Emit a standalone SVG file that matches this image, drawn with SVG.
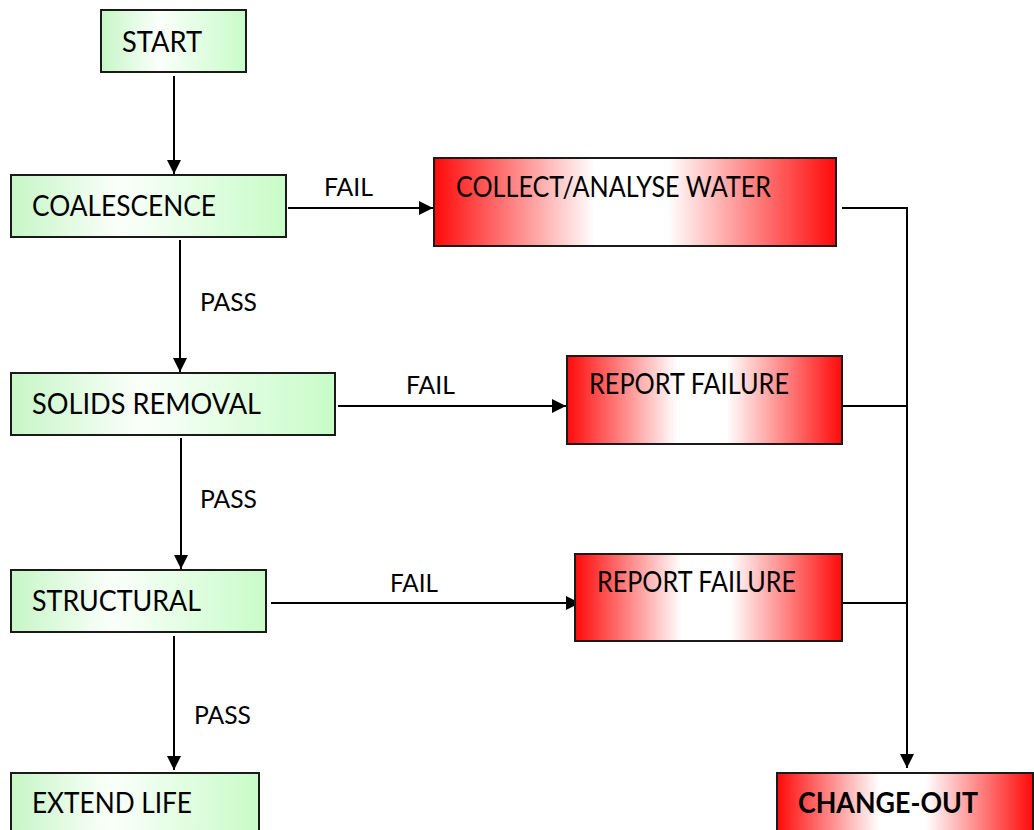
<svg xmlns="http://www.w3.org/2000/svg" width="1034" height="830" viewBox="0 0 1034 830">
<defs>
<linearGradient id="gGreen" x1="0" y1="0" x2="1" y2="0">
<stop offset="0" stop-color="#c6f6c6"/>
<stop offset="0.4" stop-color="#fbfffb"/>
<stop offset="1" stop-color="#c8fcc8"/>
</linearGradient>
<linearGradient id="gRed" x1="0" y1="0" x2="1" y2="0">
<stop offset="0" stop-color="#ff0a0a"/>
<stop offset="0.4" stop-color="#ffffff"/>
<stop offset="0.58" stop-color="#ffffff"/>
<stop offset="1" stop-color="#ff0a0a"/>
</linearGradient>
<marker id="arr" markerUnits="userSpaceOnUse" markerWidth="16" markerHeight="16" refX="14" refY="8" orient="auto">
<path d="M0,1 L14,8 L0,15 z" fill="#000"/>
</marker>
<style>
.g{fill:url(#gGreen);stroke:#1a1a1a;stroke-width:2}
.r{fill:url(#gRed);stroke:#1a1a1a;stroke-width:2}
.t{font-family:Lato,"Open Sans","Liberation Sans",sans-serif;font-size:28.5px;fill:#000}
.b{font-weight:bold}
.l{font-family:Lato,"Open Sans","Liberation Sans",sans-serif;font-size:25.7px;fill:#000}
.c{fill:none;stroke:#000;stroke-width:2}
.a{marker-end:url(#arr)}
</style>
</defs>
<rect width="1034" height="830" fill="#fff"/>
<g id="connectors">
<line class="c a" x1="174" y1="76" x2="174" y2="174"/>
<line class="c a" x1="288" y1="208" x2="433" y2="208"/>
<line class="c a" x1="180" y1="240" x2="180" y2="372"/>
<line class="c a" x1="338" y1="406" x2="566" y2="406"/>
<line class="c a" x1="181" y1="438" x2="181" y2="569"/>
<line class="c a" x1="271" y1="603" x2="580" y2="603"/>
<line class="c a" x1="174" y1="636" x2="174" y2="770"/>
<polyline class="c a" points="842,208 907,208 907,768"/>
<line class="c" x1="843" y1="406" x2="907" y2="406"/>
<line class="c" x1="842" y1="603" x2="907" y2="603"/>
<text class="l" x="324" y="196" textLength="49" lengthAdjust="spacingAndGlyphs">FAIL</text>
<text class="l" x="200" y="311" textLength="57" lengthAdjust="spacingAndGlyphs">PASS</text>
<text class="l" x="406" y="394" textLength="49" lengthAdjust="spacingAndGlyphs">FAIL</text>
<text class="l" x="200" y="508" textLength="57" lengthAdjust="spacingAndGlyphs">PASS</text>
<text class="l" x="390" y="592" textLength="48" lengthAdjust="spacingAndGlyphs">FAIL</text>
<text class="l" x="194" y="724" textLength="57" lengthAdjust="spacingAndGlyphs">PASS</text>
</g>
<g id="start">
<rect class="g" x="101" y="10" width="145" height="62"/>
<text class="t" x="122" y="52" textLength="80" lengthAdjust="spacingAndGlyphs">START</text>
</g>
<g id="coalescence">
<rect class="g" x="11" y="175" width="275" height="62"/>
<text class="t" x="32" y="216" textLength="184" lengthAdjust="spacingAndGlyphs">COALESCENCE</text>
</g>
<g id="collect">
<rect class="r" x="434" y="158" width="402" height="88"/>
<text class="t" x="456" y="197" textLength="315" lengthAdjust="spacingAndGlyphs">COLLECT/ANALYSE WATER</text>
</g>
<g id="solids">
<rect class="g" x="11" y="373" width="324" height="62"/>
<text class="t" x="32" y="414" textLength="229" lengthAdjust="spacingAndGlyphs">SOLIDS REMOVAL</text>
</g>
<g id="report1">
<rect class="r" x="567" y="356" width="275" height="88"/>
<text class="t" x="589" y="394" textLength="200" lengthAdjust="spacingAndGlyphs">REPORT FAILURE</text>
</g>
<g id="structural">
<rect class="g" x="11" y="570" width="255" height="62"/>
<text class="t" x="32" y="611" textLength="169" lengthAdjust="spacingAndGlyphs">STRUCTURAL</text>
</g>
<g id="report2">
<rect class="r" x="575" y="554" width="267" height="87"/>
<text class="t" x="597" y="592" textLength="199" lengthAdjust="spacingAndGlyphs">REPORT FAILURE</text>
</g>
<g id="extend">
<rect class="g" x="11" y="773" width="248" height="70"/>
<text class="t" x="32" y="813" textLength="160" lengthAdjust="spacingAndGlyphs">EXTEND LIFE</text>
</g>
<g id="changeout">
<rect class="r" x="777" y="773" width="256" height="70"/>
<text class="t b" x="798" y="813" textLength="180" lengthAdjust="spacingAndGlyphs">CHANGE-OUT</text>
</g>
</svg>
